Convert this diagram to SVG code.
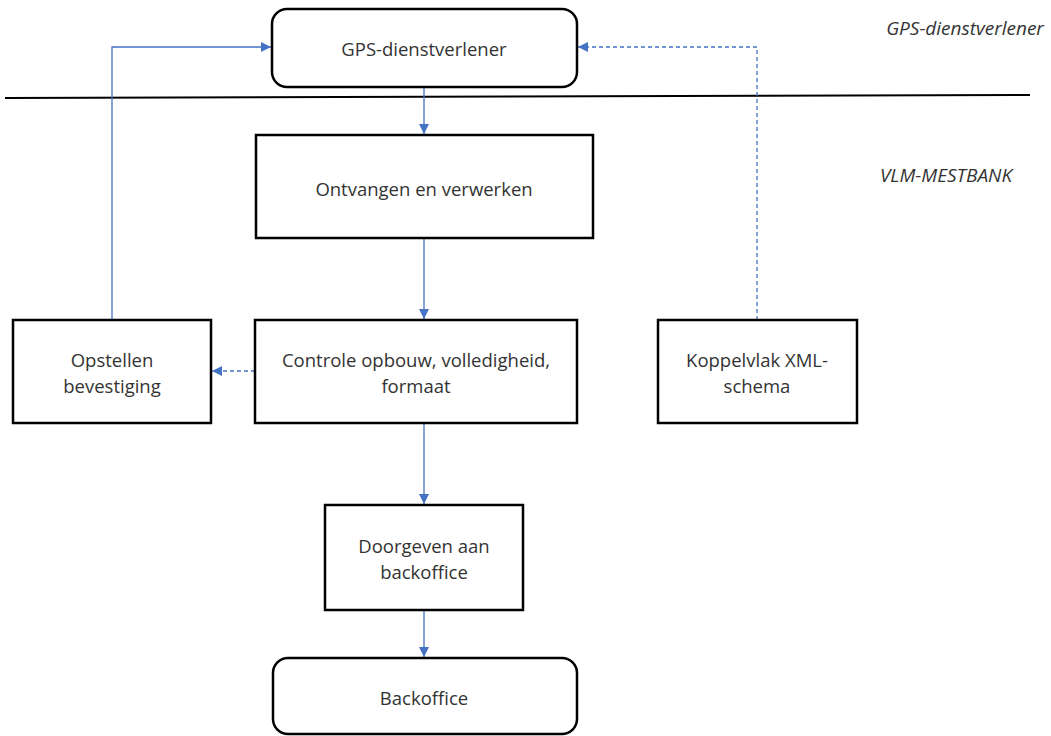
<svg xmlns="http://www.w3.org/2000/svg" width="1051" height="736" viewBox="0 0 1051 736">
<style>
.box{fill:#fff;stroke:#000;stroke-width:2.5}
.t{font-family:"Open Sans","Liberation Sans",sans-serif;font-size:18.5px;fill:#333;text-anchor:middle;dominant-baseline:central}
.lab{font-family:"Open Sans","Liberation Sans",sans-serif;font-size:19px;fill:#333;font-style:italic;text-anchor:middle;dominant-baseline:central}
.c{fill:none;stroke:#4472C4;stroke-width:1.3}
.d{stroke-dasharray:4 3}
</style>
<defs>
<marker id="ah" viewBox="0 0 10 10" refX="10" refY="5" markerWidth="10" markerHeight="10" markerUnits="userSpaceOnUse" orient="auto">
<path d="M0,0 L10,5 L0,10 z" fill="#4472C4"/>
</marker>
</defs>
<rect width="1051" height="736" fill="#fff"/>
<line x1="5" y1="98" x2="1030" y2="95" stroke="#000" stroke-width="2"/>
<text class="lab" x="965" y="28">GPS-dienstverlener</text>
<text class="lab" x="946" y="175">VLM-MESTBANK</text>
<g id="connectors">
<path class="c" d="M424,88 V134" marker-end="url(#ah)"/>
<path class="c" d="M424,238 V319" marker-end="url(#ah)"/>
<path class="c" d="M424,424 V504" marker-end="url(#ah)"/>
<path class="c" d="M424,611 V657" marker-end="url(#ah)"/>
<path class="c" d="M112,320 V47 H271" marker-end="url(#ah)"/>
<path class="c d" d="M757,320 V47 H578" marker-end="url(#ah)"/>
<path class="c d" d="M255,371 H212" marker-end="url(#ah)"/>
</g>
<g id="gps"><rect class="box" x="272" y="9" width="305" height="78" rx="15"/><text class="t" x="424" y="48">GPS-dienstverlener</text></g>
<g id="ontvangen"><rect class="box" x="256" y="135" width="337" height="103"/><text class="t" x="424" y="188">Ontvangen en verwerken</text></g>
<g id="controle"><rect class="box" x="255" y="320" width="322" height="103"/><text class="t" x="416" y="359">Controle opbouw, volledigheid,</text><text class="t" x="416" y="385">formaat</text></g>
<g id="opstellen"><rect class="box" x="13" y="320" width="198" height="103"/><text class="t" x="112" y="359">Opstellen</text><text class="t" x="112" y="385">bevestiging</text></g>
<g id="koppelvlak"><rect class="box" x="658" y="320" width="199" height="103"/><text class="t" x="757" y="359">Koppelvlak XML-</text><text class="t" x="757" y="385">schema</text></g>
<g id="doorgeven"><rect class="box" x="325" y="505" width="198" height="105"/><text class="t" x="424" y="545">Doorgeven aan</text><text class="t" x="424" y="571">backoffice</text></g>
<g id="backoffice"><rect class="box" x="273" y="658" width="304" height="76" rx="15"/><text class="t" x="424" y="697">Backoffice</text></g>
</svg>
